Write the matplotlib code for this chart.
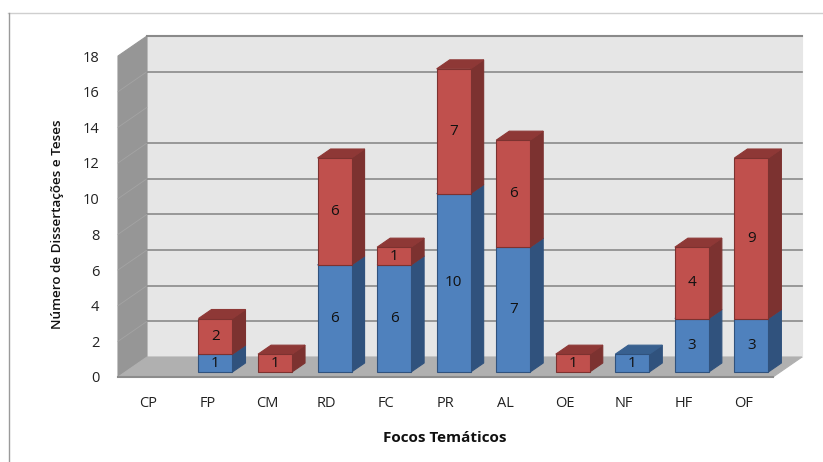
import matplotlib
matplotlib.use("Agg")
import matplotlib.pyplot as plt
from matplotlib.patches import Polygon

plt.rcParams["font.family"] = ["Open Sans", "DejaVu Sans"]

# values
categories = ["CP", "FP", "CM", "RD", "FC", "PR", "AL", "OE", "NF", "HF", "OF"]
blue_values = [0, 1, 0, 6, 6, 10, 7, 0, 1, 3, 3]
red_values = [0, 2, 1, 6, 1, 7, 6, 1, 0, 4, 9]
y_ticks = list(range(0, 20, 2))
wall_lines = [2, 4, 6, 8, 10, 12, 16]

W, H = 823, 462
X0, X1 = 118, 773      # front floor edge, px
Y0, Y18 = 377, 56      # value 0 and 18 on the front edge, px
px_x = (X1 - X0) / len(categories)
px_y = (Y0 - Y18) / 18
# full depth of the box, in data units
DX = 29 / px_x
DY = 20 / px_y


def proj(cat, val, depth):
    # oblique projection, depth 0 is the front and 1 the back wall
    return (cat + depth * DX, val + depth * DY)


def face(ax, pts, color, edge=None, z=1):
    ax.add_patch(Polygon(pts, closed=True, facecolor=color, edgecolor=edge or color,
                         linewidth=0.8, zorder=z, clip_on=False))


def bar_segment(ax, i, low, high, front, side, top):
    hw = 0.285
    d0, d1 = 0.25, 0.70
    l, r = i - hw + 0.015, i + hw + 0.015
    face(ax, [proj(l, low, d0), proj(r, low, d0), proj(r, high, d0), proj(l, high, d0)], front, side, z=4)
    face(ax, [proj(r, low, d0), proj(r, low, d1), proj(r, high, d1), proj(r, high, d0)], side, z=3)
    face(ax, [proj(l, high, d0), proj(r, high, d0), proj(r, high, d1), proj(l, high, d1)], top, z=3)


fig = plt.figure(figsize=(W / 100, H / 100), dpi=100)
ax = fig.add_axes([X0 / W, 1 - Y0 / H, (X1 - X0) / W, (Y0 - Y18) / H])
ax.set_xlim(-0.5, len(categories) - 0.5)
ax.set_ylim(0, 18)
for s in ax.spines.values():
    s.set_visible(False)
ax.patch.set_visible(False)

left, right = -0.5, len(categories) - 0.5

# box: back wall, left wall, floor
face(ax, [proj(left, 0, 1), proj(right, 0, 1), proj(right, 18, 1), proj(left, 18, 1)], "#e6e6e6", "#e6e6e6", z=0)
face(ax, [proj(left, 0, 0), proj(left, 0, 1), proj(left, 18, 1), proj(left, 18, 0)], "#969696", z=0)
face(ax, [proj(left, 0, 0), proj(right, 0, 0), proj(right, 0, 1), proj(left, 0, 1)], "#b0b0b0", z=1)

for v in wall_lines:
    xs, ys = zip(proj(left, v, 1), proj(right, v, 1))
    ax.plot(xs, ys, color="#8a8a8a", lw=1.2, zorder=1, clip_on=False)
for v in y_ticks[1:-1]:
    xs, ys = zip(proj(left, v, 0), proj(left, v, 1))
    ax.plot(xs, ys, color="#a4a4a4", lw=0.6, zorder=1, clip_on=False)
xs, ys = zip(proj(left, 18, 1), proj(right, 18, 1))
ax.plot(xs, ys, color="#8a8a8a", lw=1.5, zorder=1, clip_on=False)
ax.plot([left, right], [0, 0], color="#8c8c8c", lw=1.5, zorder=2, clip_on=False)

# stacked bars
for i in range(len(categories)):
    b, r = blue_values[i], red_values[i]
    if b:
        bar_segment(ax, i, 0, b, "#4f81bd", "#30527d", "#38608f")
        x, y = proj(i + 0.015, b / 2, 0.25)
        ax.text(x, y, str(b), ha="center", va="center", fontsize=11, color="#111111", zorder=6)
    if r:
        bar_segment(ax, i, b, b + r, "#c0504d", "#7c3230", "#8e3836")
        x, y = proj(i + 0.015, b + r / 2, 0.25)
        ax.text(x, y, str(r), ha="center", va="center", fontsize=11, color="#111111", zorder=6)

ax.set_xticks(range(len(categories)))
ax.set_xticklabels(categories, fontsize=10.5, color="#222222")
ax.set_yticks(y_ticks)
ax.set_yticklabels([str(v) for v in y_ticks], fontsize=10.5, color="#222222")
ax.tick_params(axis="x", length=0, pad=14)
ax.tick_params(axis="y", length=0, pad=13.5)

fig.text(445 / W, 1 - 438 / H, "Focos Temáticos", ha="center", va="center",
         fontsize=11, fontweight="bold", color="#111111")
fig.text(57 / W, 1 - 224 / H, "Número de Dissertações e Teses", ha="center", va="center",
         rotation=90, fontsize=9.7, fontweight="semibold", color="#111111")

# outer frame of the chart area
fig.add_artist(plt.Line2D([8 / W, 1], [1 - 12.5 / H, 1 - 12.5 / H], color="#cfcfcf", lw=1))
fig.add_artist(plt.Line2D([8.5 / W, 8.5 / W], [0, 1 - 12.5 / H], color="#9a9a9a", lw=1))

fig.savefig("out.png", dpi=100)
